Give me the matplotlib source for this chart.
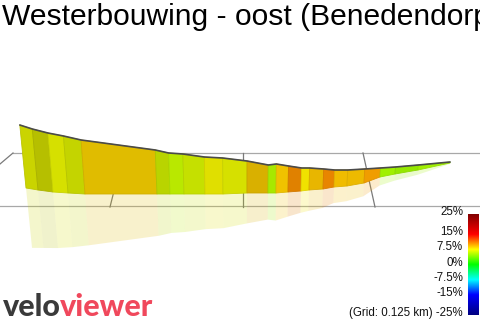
import numpy as np
import matplotlib
matplotlib.use("Agg")
import matplotlib.pyplot as plt
from matplotlib.colors import LinearSegmentedColormap
from matplotlib.patches import Polygon

title = "Westerbouwing - oost (Benedendorp"

# route (ground point in view, height of the wall)
base_x = [26, 38, 53, 68, 85, 157, 170, 184, 205, 223, 247, 268, 276, 288,
          301, 309, 323, 334, 347, 364, 380, 395, 418, 450]
base_y = [188, 190, 192, 193, 194, 194, 194, 194, 194, 194, 193, 193, 193, 192,
          191, 190, 189, 187, 186, 183, 177, 174, 170, 163]
top_y = [125, 129, 133, 136, 140, 150, 153, 154, 157, 158, 161, 165, 164, 166,
         168, 168, 169, 170, 170, 169, 168, 167, 165, 162]
# gradient per segment (%) and light on each face
grad = [7.1, 7.2, 7.2, 6.9, 8.6, 6.5, 6.0, 6.6, 7.5, 7.1, 8.8, 5.4, 8.8, 10.7,
        8.0, 9.0, 10.6, 9.0, 9.1, 10.0, 5.0, 4.7, 5.0]
light = [0.83, 0.75, 0.88, 0.83, 0.88, 0.83, 0.91, 0.88, 0.88, 0.88, 0.85, 0.91,
         0.94, 0.88, 0.94, 0.91, 0.91, 0.94, 0.93, 0.94, 0.94, 0.91, 0.94]

# ground grid (0.125 km)
grid_top_x = [13, 123.5, 243, 363]
grid_bot_x = [0, 110, 243, 375]

cbar_ticks = [25, 15, 7.5, 0, -7.5, -15, -25]

cmap = LinearSegmentedColormap.from_list(
    "grad",
    [(0.0, "#000080"), (0.2, "#0000ff"), (0.35, "#00ffff"), (0.5, "#00ff00"),
     (0.65, "#ffff00"), (0.8, "#ff0000"), (1.0, "#800000")])

fig = plt.figure(figsize=(4.8, 3.21), dpi=100)
ax = fig.add_axes([0, 0, 1, 1])
ax.set_xlim(0, 480)
ax.set_ylim(321, 0)
ax.axis("off")

# ground grid
ax.plot([13, 480], [153, 153], color="#a8a8a8", lw=0.9, zorder=1)
ax.plot([0, 480], [206, 206], color="#a8a8a8", lw=0.9, zorder=1)
for xt, xb in zip(grid_top_x, grid_bot_x):
    yb = 164 if xb == 0 else 207
    ax.plot([xt, xb], [153, yb], color="#7a7a7a", lw=0.9, zorder=1)

bx = np.array(base_x, float)
by = np.array(base_y, float)
h = by - np.array(top_y, float)
shear = (bx - 245) * 0.00045
tx = bx + shear * h
ty = by - h
rx = bx - shear * h * 0.97
ry = by + h * 0.95

for i in range(len(grad)):
    c = np.array(cmap((grad[i] + 25) / 50)[:3]) * light[i]
    wall = [(tx[i], ty[i]), (tx[i+1], ty[i+1]), (bx[i+1], by[i+1]), (bx[i], by[i])]
    ax.add_patch(Polygon(wall, closed=True, fc=c, ec=c * 0.93, lw=0.6, zorder=3))
    refl = [(bx[i], by[i]), (bx[i+1], by[i+1]), (rx[i+1], ry[i+1]), (rx[i], ry[i])]
    ax.add_patch(Polygon(refl, closed=True, fc=c, ec="none", alpha=0.2, zorder=2))

ax.plot(tx, ty, color="#4a4a4a", lw=1.2, zorder=4, solid_capstyle="round")

ax.text(2, 25, title, fontsize=21.6, family="Liberation Sans", va="baseline",
        color="black")

# colour scale
cax = fig.add_axes([468 / 480, 1 - 315 / 321, 11 / 480, 101 / 321])
cax.imshow(np.linspace(25, -25, 256)[:, None], cmap=cmap, vmin=-25, vmax=25,
           aspect="auto")
cax.axis("off")
for p in cbar_ticks:
    y = 214 + (25 - p) * 2.02 - 2
    lab = "%g%%" % p
    if p == -25:
        lab = "(Grid: 0.125 km) -25%"
    ax.text(463, y, lab, fontsize=8.3, family="Liberation Sans", ha="right",
            va="center", color="#111111")

# logo
t1 = ax.text(3, 316, "velo", fontsize=22, family="Lato", fontweight="black",
             color="#3a3a3a", va="baseline")
fig.canvas.draw()
bb = t1.get_window_extent()
x1 = ax.transData.inverted().transform((bb.x1, bb.y0))[0]
ax.text(x1 - 1, 316, "viewer", fontsize=22, family="Lato", fontweight="black",
        color="#f0485c", va="baseline")

fig.savefig("out.png", dpi=100)
